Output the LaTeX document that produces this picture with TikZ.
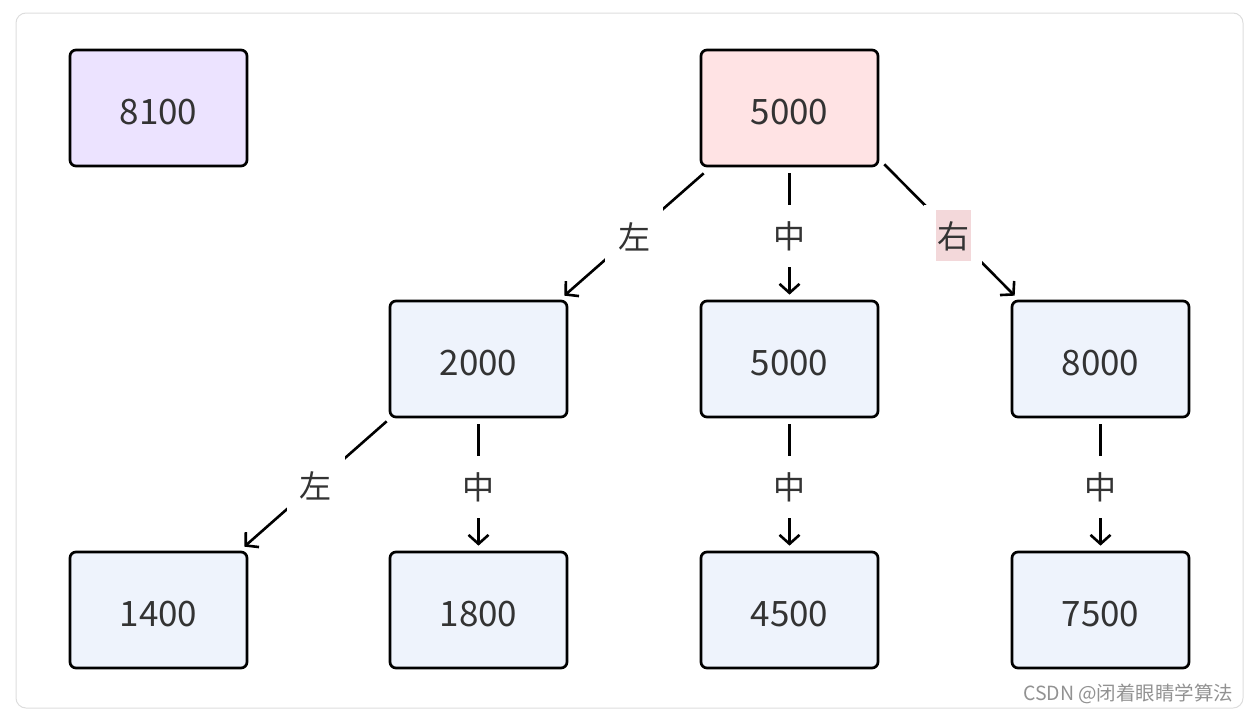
\documentclass[tikz,border=0pt]{standalone}
\usepackage{fontspec}
\setmainfont{Noto Sans CJK SC}
\usetikzlibrary{arrows.meta,calc}
\definecolor{txt}{HTML}{333333}
\definecolor{lav}{HTML}{ECE3FF}
\definecolor{rose}{HTML}{FFE3E4}
\definecolor{ice}{HTML}{EEF3FC}
\definecolor{lblpink}{HTML}{F3D8DA}
\definecolor{frame}{HTML}{DDDDDD}
\definecolor{mark}{HTML}{929292}
\tikzset{
  box/.style={draw=black, line width=2.7pt, rounded corners=6pt, minimum width=177pt, minimum height=116pt, inner sep=0pt, text=txt, font=\fontsize{35}{40}\selectfont, text height=32pt, text depth=0pt},
  edge/.style={line width=2.6pt, -{Straight Barb[length=9pt,width=20pt,line width=2.6pt]}},
  lbl/.style={fill=white, text=txt, inner sep=0pt, minimum width=58pt, minimum height=62pt, font=\fontsize{32}{36}\selectfont},
  pinkbg/.style={fill=lblpink, inner sep=0pt, minimum width=35pt, minimum height=51pt},
}
\begin{document}
\begin{tikzpicture}[x=1pt,y=-1pt]
\useasboundingbox (0,0) rectangle (1249,715);
\draw[frame, line width=1pt, rounded corners=10pt] (16,13) rectangle (1243,708);

\node[box, fill=lav]  (n8100) at (158.5,108) {8100};
\node[box, fill=rose] (r5000) at (789.5,108) {5000};
\node[box, fill=ice]  (n2000) at (478.5,359) {2000};
\node[box, fill=ice]  (m5000) at (789.5,359) {5000};
\node[box, fill=ice]  (n8000) at (1100.5,359) {8000};
\node[box, fill=ice]  (n1400) at (158.5,610) {1400};
\node[box, fill=ice]  (n1800) at (478.5,610) {1800};
\node[box, fill=ice]  (n4500) at (789.5,610) {4500};
\node[box, fill=ice]  (n7500) at (1100.5,610) {7500};

\draw[edge] ($(r5000.south west)+(4,6)$) -- node[lbl, yshift=-2pt] (l1) {左} ($(n2000.north east)+(-4,-4)$);
\draw[edge] ($(r5000.south)+(0,6)$) -- node[lbl, yshift=-2pt] (l2) {中} ($(m5000.north)+(0,-5)$);
\draw[edge] ($(r5000.south east)+(5,-3)$) -- node[lbl, pos=0.53, yshift=-2pt] (l3) {} ($(n8000.north west)+(4,-4)$);
\node[pinkbg, text=txt, font=\fontsize{32}{36}\selectfont] (l3t) at (l3) {右};
\draw[edge] ($(n2000.south west)+(-2,3)$) -- node[lbl, yshift=-2pt] (l4) {左} ($(n1400.north east)+(-4,-4)$);
\draw[edge] ($(n2000.south)+(0,6)$) -- node[lbl, yshift=-2pt] (l5) {中} ($(n1800.north)+(0,-5)$);
\draw[edge] ($(m5000.south)+(0,6)$) -- node[lbl, yshift=-2pt] (l6) {中} ($(n4500.north)+(0,-5)$);
\draw[edge] ($(n8000.south)+(0,6)$) -- node[lbl, yshift=-2pt] (l7) {中} ($(n7500.north)+(0,-5)$);

\node[anchor=east, text=mark, font=\fontsize{19.5}{22}\selectfont] (wm) at (1237,694) {CSDN @闭着眼睛学算法};
\end{tikzpicture}
\end{document}
